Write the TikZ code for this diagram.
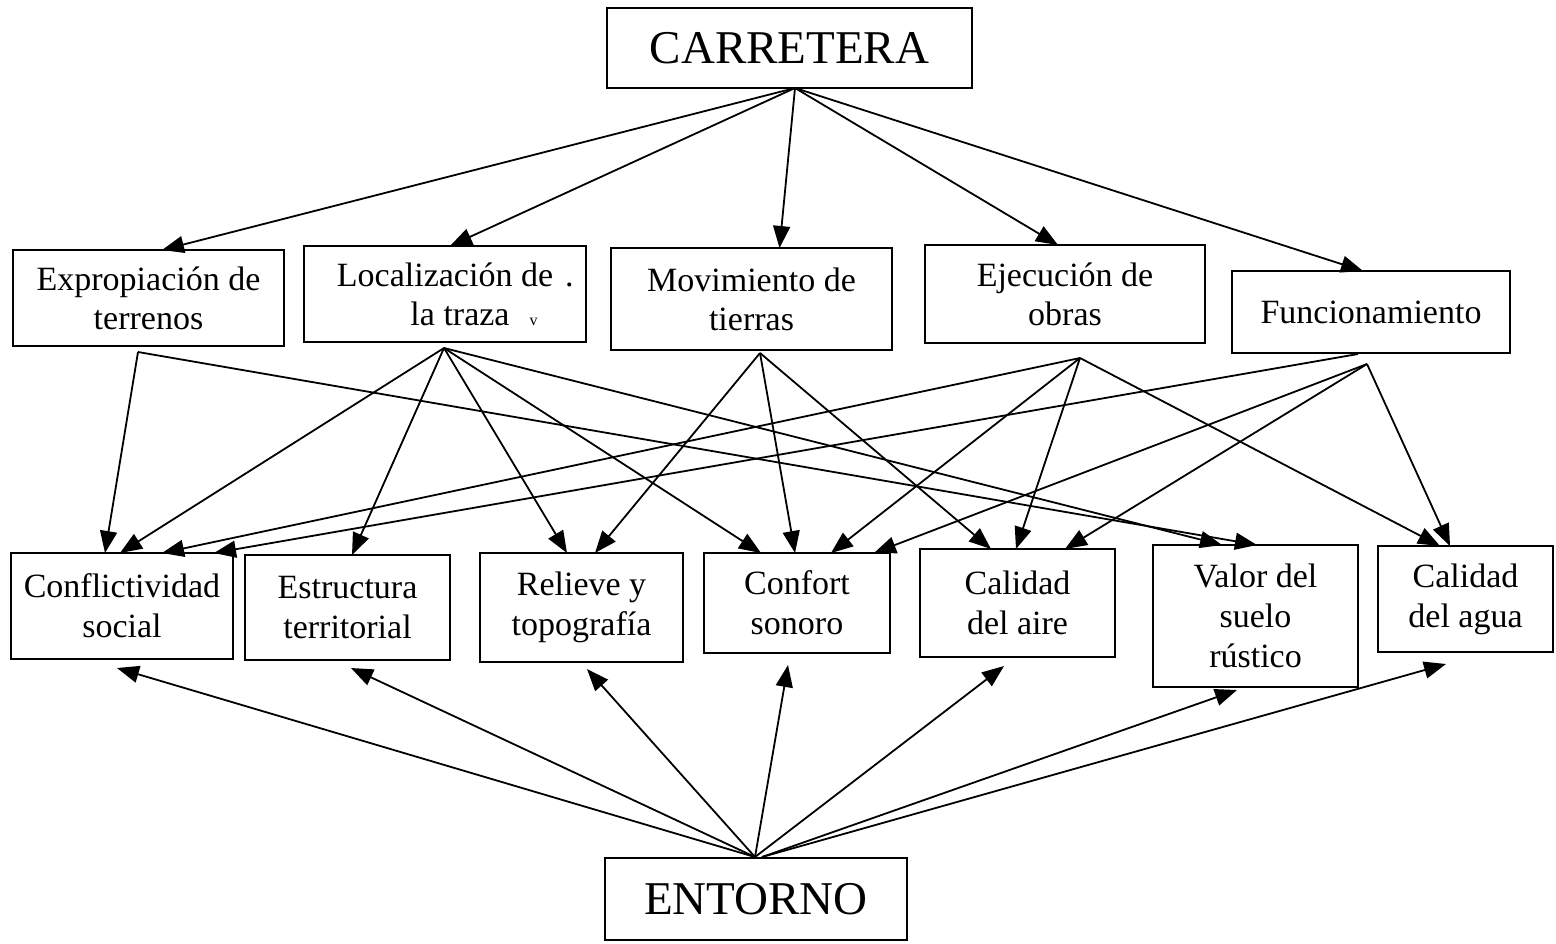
\documentclass[tikz,border=0pt]{standalone}
\usepackage{fontspec}
\setmainfont{Liberation Serif}
\usetikzlibrary{arrows.meta,calc}
\tikzset{
  box/.style={draw, line width=1pt, inner sep=0pt, outer sep=0pt, align=center,
              font=\fontsize{17}{19.5}\selectfont},
  lowbox/.style={box, font=\fontsize{17}{20}\selectfont},
  bigbox/.style={box, font=\fontsize{23.5}{28}\selectfont},
  arr/.style={line width=0.9pt, -{Triangle[length=11pt,width=8.5pt]}},
}
\begin{document}
\begin{tikzpicture}[x=0.5pt,y=-0.5pt]
\useasboundingbox (0,0) rectangle (1556,943);
% top and bottom
\node[bigbox, minimum width=182.5pt, minimum height=40pt] (carr) at (789.5,48) {CARRETERA};
\node[bigbox, minimum width=151pt, minimum height=41pt] (ent) at (756,899) {ENTORNO};
% middle row
\node[box, minimum width=135.5pt, minimum height=48pt] (expro) at (148.5,298) {Expropiación de\\terrenos};
\node[box, minimum width=141pt, minimum height=48pt] (loc) at (445,294)
  {Localización de\rlap{\hspace{6pt}.}\\\hspace*{15pt}la traza\rlap{\hspace{10pt}\fontsize{8}{8}\selectfont v}};
\node[box, minimum width=140.5pt, minimum height=51pt] (mov) at (751.5,299) {Movimiento de\\tierras};
\node[box, minimum width=140pt, minimum height=49pt] (ejec) at (1065,294) {Ejecución de\\obras};
\node[box, minimum width=139pt, minimum height=41pt] (func) at (1371,312) {Funcionamiento};
% bottom row
\node[lowbox, minimum width=111pt, minimum height=53pt] (conf) at (122,606) {Conflictividad\\social};
\node[lowbox, minimum width=102.5pt, minimum height=52.5pt] (estr) at (347.5,607.5) {Estructura\\territorial};
\node[lowbox, minimum width=101.5pt, minimum height=54.5pt] (rel) at (581.5,607.5) {Relieve y\\topografía};
\node[lowbox, minimum width=93pt, minimum height=50pt] (son) at (797,603) {Confort\\sonoro};
\node[lowbox, minimum width=97.5pt, minimum height=54pt] (aire) at (1017.5,603) {Calidad\\del aire};
\node[lowbox, minimum width=102.5pt, minimum height=71pt] (valor) at (1255.5,616) {Valor del\\suelo\\rústico};
\node[lowbox, minimum width=87.5pt, minimum height=53pt] (agua) at (1465.5,599) {Calidad\\del agua};
% apex points
\coordinate (carrA) at ($(carr.south)+(5.5,0)$);
\coordinate (exproA) at ($(expro.south)+(-10.5,6)$);
\coordinate (locA) at ($(loc.south)+(-1,6)$);
\coordinate (movA) at ($(mov.south)+(8.5,3)$);
\coordinate (ejecA) at ($(ejec.south)+(15,15)$);
\coordinate (funcA) at ($(func.south)+(-4,11)$);
\coordinate (funcB) at ($(func.south)+(-13,1)$);
\coordinate (entA) at ($(ent.north)+(-1,-1)$);
\coordinate (entB) at ($(ent.north)+(6,-1)$);
% carretera -> middle
\draw[arr] (carrA) -- ($(expro.north)+(13.5,0)$);
\draw[arr] (carrA) -- ($(loc.north)+(5,0)$);
\draw[arr] (carrA) -- ($(mov.north)+(28,0)$);
\draw[arr] (carrA) -- ($(ejec.north)+(-7,0)$);
\draw[arr] (carrA) -- ($(func.north)+(-8,0)$);
% expropiacion
\draw[arr] (exproA) -- ($(conf.north)+(-17,0)$);
\draw[arr] (exproA) -- ($(valor.north)+(1.5,0)$);
% localizacion
\draw[arr] (locA) -- ($(conf.north)+(-2,0)$);
\draw[arr] (locA) -- ($(estr.north)+(4.5,0)$);
\draw[arr] (locA) -- ($(rel.north)+(-14.5,0)$);
\draw[arr] (locA) -- ($(son.north)+(-36,0)$);
\draw[arr] (locA) -- ($(valor.north)+(-33.5,0)$);
% movimiento
\draw[arr] (movA) -- ($(rel.north)+(13.5,0)$);
\draw[arr] (movA) -- ($(son.north)+(-2,0)$);
\draw[arr] (movA) -- ($(aire.north)+(-26.5,0)$);
% ejecucion
\draw[arr] (ejecA) -- ($(conf.north)+(40,0)$);
\draw[arr] (ejecA) -- ($(son.north)+(34,0)$);
\draw[arr] (ejecA) -- ($(aire.north)+(-1.5,0)$);
\draw[arr] (ejecA) -- ($(agua.north)+(-25.5,0)$);
% funcionamiento
\draw[arr] (funcB) -- ($(conf.north)+(92,0)$);
\draw[arr] (funcA) -- ($(son.north)+(77,0)$);
\draw[arr] (funcA) -- ($(aire.north)+(47.5,0)$);
\draw[arr] (funcA) -- ($(agua.north)+(-15.5,0)$);
% entorno -> bottom row
\draw[arr] (entA) -- ($(conf.south)+(-5,9)$);
\draw[arr] (entA) -- ($(estr.south)+(3.5,8)$);
\draw[arr] (entA) -- ($(rel.south)+(5.5,7)$);
\draw[arr] (entA) -- ($(son.south)+(-9,12)$);
\draw[arr] (entA) -- ($(aire.south)+(-13.5,9)$);
\draw[arr] (entB) -- ($(valor.south)+(-18.5,3)$);
\draw[arr] (entB) -- ($(agua.south)+(-19.5,12)$);
\end{tikzpicture}
\end{document}
